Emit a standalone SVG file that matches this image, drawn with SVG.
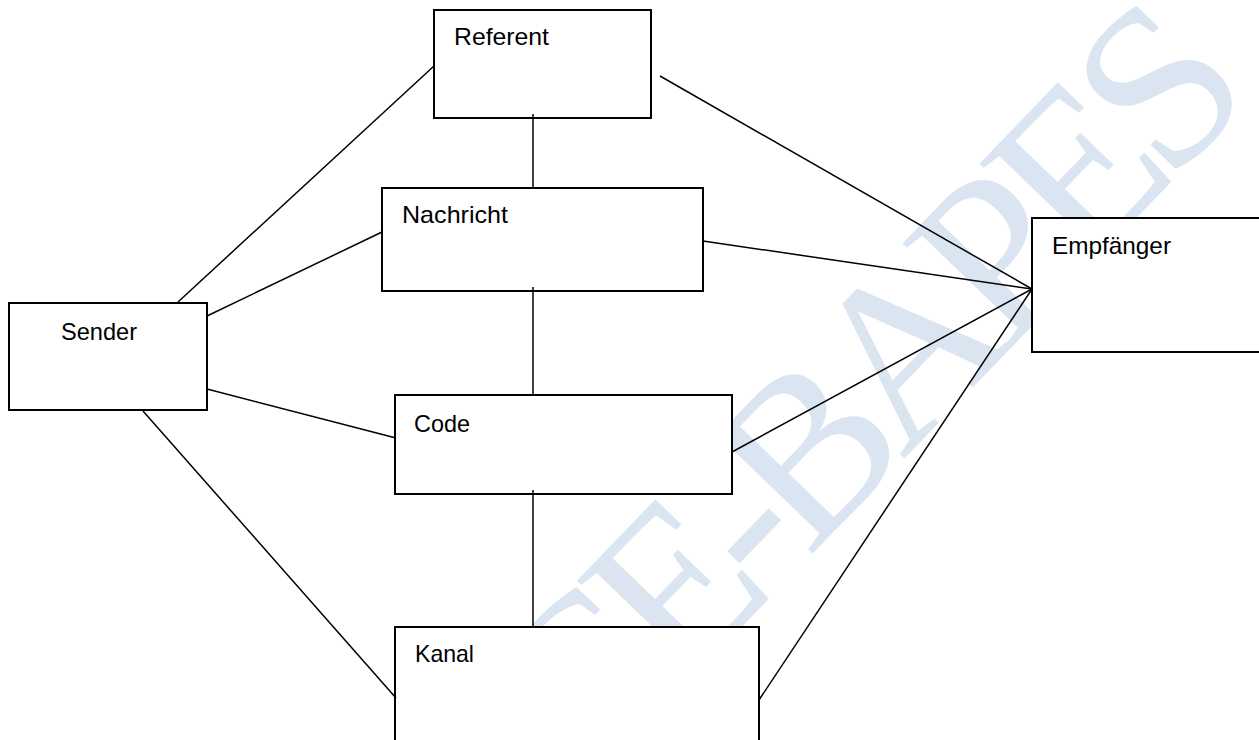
<svg xmlns="http://www.w3.org/2000/svg" width="1259" height="740" viewBox="0 0 1259 740">
<style>
.box{fill:#fff;stroke:#000;stroke-width:2}
.lbl{font-family:"Liberation Sans",Arial,sans-serif;font-size:24px;fill:#000}
.con line{stroke:#000;stroke-width:1.5}
.wm{font-family:"Liberation Serif","Times New Roman",serif;font-size:230px;letter-spacing:-17px;fill:#dbe5f1}
</style>
<rect width="1259" height="740" fill="#fff"/>
<text class="wm" x="586" y="788" transform="rotate(-46 586 788)">CE-BAPES</text>
<g id="referent"><rect class="box" x="434" y="10" width="217" height="108"/><text class="lbl" x="454" y="45" textLength="95" lengthAdjust="spacingAndGlyphs">Referent</text></g>
<g id="nachricht"><rect class="box" x="382" y="188" width="321" height="103"/><text class="lbl" x="402" y="223" textLength="106" lengthAdjust="spacingAndGlyphs">Nachricht</text></g>
<g id="sender"><rect class="box" x="9" y="303" width="198" height="107"/><text class="lbl" x="61" y="340" textLength="76" lengthAdjust="spacingAndGlyphs">Sender</text></g>
<g id="code"><rect class="box" x="395" y="395" width="337" height="99"/><text class="lbl" x="414" y="432" textLength="56" lengthAdjust="spacingAndGlyphs">Code</text></g>
<g id="kanal"><rect class="box" x="395" y="627" width="364" height="130"/><text class="lbl" x="415" y="662" textLength="59" lengthAdjust="spacingAndGlyphs">Kanal</text></g>
<g id="empfaenger"><rect class="box" x="1032" y="218" width="240" height="134"/><text class="lbl" x="1052" y="254" textLength="119" lengthAdjust="spacingAndGlyphs">Empfänger</text></g>
<g id="connectors" class="con">
<line x1="533" y1="114" x2="533" y2="188"/>
<line x1="533" y1="287" x2="533" y2="395"/>
<line x1="533" y1="490" x2="533" y2="627"/>
<line x1="178" y1="302" x2="434" y2="66"/>
<line x1="207" y1="316" x2="382" y2="232"/>
<line x1="207" y1="389" x2="396" y2="438"/>
<line x1="143" y1="411" x2="396" y2="698"/>
<line x1="660" y1="76" x2="1032" y2="289"/>
<line x1="703" y1="241" x2="1032" y2="289"/>
<line x1="732" y1="452" x2="1032" y2="289"/>
<line x1="759" y1="700" x2="1032" y2="289"/>
</g>
</svg>
